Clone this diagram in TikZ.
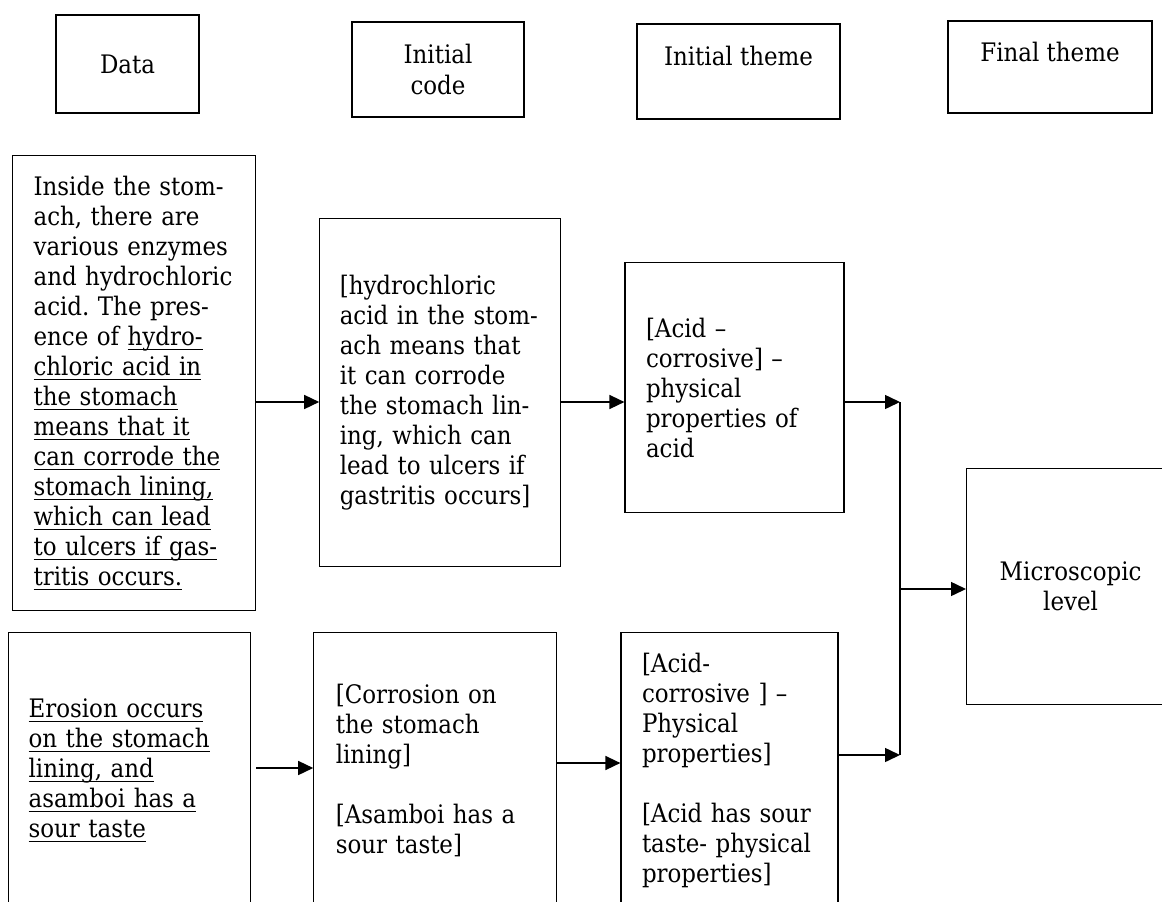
\documentclass[tikz,border=0pt]{standalone}
\usepackage{fontspec}
\setmainfont{DejaVu Serif Condensed}
\usetikzlibrary{arrows.meta,positioning}
\frenchspacing
\newcommand{\ulline}[1]{\leavevmode\setbox0\hbox{#1}\rlap{\rule[-4pt]{\wd0}{1.2pt}}\box0}
\tikzset{
  box/.style={draw, line width=1.2pt, align=left, inner ysep=0pt, font=\fontsize{25.5}{30}\selectfont},
  headbox/.style={draw, line width=1.2pt, align=center, inner sep=0pt, font=\fontsize{25.5}{31}\selectfont},
  arrow/.style={-{Triangle[length=15pt,width=14pt]}, line width=1.5pt},
  joinline/.style={line width=1.5pt}
}
\begin{document}
\begin{tikzpicture}[x=1pt, y=-1pt]
  \useasboundingbox (0,0) rectangle (1162,902);
  \clip (0,0) rectangle (1162,902);
  % column headings
  \node[headbox, minimum width=143pt, minimum height=98pt] (hdata) at (127.5,64) {Data};
  \node[headbox, minimum width=172pt, minimum height=95pt] (hcode) at (438,69.5) {Initial\\code};
  \node[headbox, minimum width=203pt, minimum height=95pt] (htheme) at (738.5,71.5) {Initial theme\\\mbox{}};
  \node[headbox, minimum width=204pt, minimum height=92pt] (hfinal) at (1050,67) {Final theme\\\mbox{}};
  % first row
  \node[box, anchor=north west, inner xsep=21pt, text width=201pt, minimum height=455pt] (data1) at (12,155)
    {Inside the stom-\\ach, there are\\various enzymes\\and hydrochloric\\acid. The pres-\\ence of \ulline{hydro-}\\
     \ulline{chloric acid in}\\\ulline{the stomach}\\\ulline{means that it}\\\ulline{can corrode the}\\
     \ulline{stomach lining,}\\\ulline{which can lead}\\\ulline{to ulcers if gas-}\\\ulline{tritis occurs.}};
  \node[box, right=63pt of data1, yshift=-9.5pt, inner xsep=20pt, text width=201pt, minimum height=348pt] (code1)
    {{[}hydrochloric\\acid in the stom-\\ach means that\\it can corrode\\the stomach lin-\\ing, which can\\lead to ulcers if\\gastritis occurs]};
  \node[box, right=63pt of code1, yshift=5pt, inner xsep=21pt, text width=177pt, minimum height=250pt] (theme1)
    {{[}Acid –\\corrosive] –\\physical\\properties of\\acid};
  % second row
  \node[box, anchor=north west, inner xsep=20pt, text width=202pt, minimum height=276pt] (data2) at (8,632)
    {\ulline{Erosion occurs}\\\ulline{on the stomach}\\\ulline{lining, and}\\\ulline{asamboi has a}\\\ulline{sour taste}};
  \node[box, right=62pt of data2, inner xsep=22pt, text width=199pt, minimum height=276pt] (code2)
    {{[}Corrosion on\\the stomach\\lining]\\\mbox{}\\{[}Asamboi has a\\sour taste]};
  \node[box, right=63pt of code2, inner xsep=21pt, text width=175pt, minimum height=276pt] (theme2)
    {{[}Acid-\\corrosive ] –\\Physical\\properties]\\\mbox{}\\{[}Acid has sour\\taste- physical\\properties]};
  % final theme
  \node[box, align=center, anchor=north west, minimum width=208pt, minimum height=236pt] (micro) at (966,468)
    {Microscopic\\level};
  % connectors
  \coordinate (row1) at (0,402);
  \coordinate (lowA) at (0,768);
  \coordinate (lowB) at (0,763);
  \coordinate (lowC) at (0,755);
  \coordinate (join) at (900,589);
  \draw[arrow] (data1.east |- row1) -- (code1.west |- row1);
  \draw[arrow] (code1.east |- row1) -- (theme1.west |- row1);
  \draw[arrow] (theme1.east |- row1) -- (join |- row1);
  \draw[arrow, shorten <=5pt] (data2.east |- lowA) -- (code2.west |- lowA);
  \draw[arrow] (code2.east |- lowB) -- (theme2.west |- lowB);
  \draw[arrow] (theme2.east |- lowC) -- (join |- lowC);
  \draw[joinline] (join |- row1) -- (join |- lowC);
  \draw[arrow] (join) -- (micro.west |- join);
\end{tikzpicture}
\end{document}
